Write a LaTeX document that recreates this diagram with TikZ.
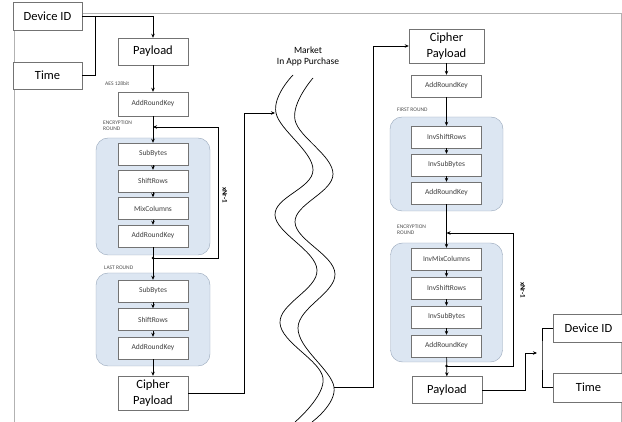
\documentclass[tikz,border=0pt]{standalone}
\usepackage{fontspec}
\setmainfont{Carlito}
\usetikzlibrary{arrows.meta}
\definecolor{roundfill}{RGB}{220,230,242}
\definecolor{roundline}{RGB}{150,165,185}
\definecolor{boxline}{RGB}{115,115,115}
\tikzset{
  bigbox/.style={draw=boxline, fill=white, minimum width=70pt, minimum height=27pt, inner sep=1pt, align=center, font=\fontsize{12.5}{16}\selectfont},
  opbox/.style={draw=boxline, fill=white, minimum width=70pt, minimum height=22pt, inner sep=1pt, text=black!75, font=\fontsize{7.5}{8.5}\selectfont},
  roundbg/.style={draw=roundline, fill=roundfill, rounded corners=12pt},
  tag/.style={inner sep=0pt, align=left, text=black!70, font=\fontsize{5.5}{6}\selectfont},
  times/.style={rotate=-90, inner sep=0pt, font=\fontsize{7}{8}\selectfont\bfseries},
  flow/.style={-{Stealth[length=4pt,width=3.5pt]}, line width=0.7pt},
  wire/.style={line width=0.7pt}
}
\begin{document}
\begin{tikzpicture}[x=1pt, y=-1pt]
\useasboundingbox (0,0) rectangle (622,422);
\draw[black!30] (14,422) -- (14,13) -- (621,13) -- (621,422);

% sender side
\node[bigbox, minimum width=69pt, minimum height=28pt] (devL) at (47.5,16) {Device ID};
\node[bigbox, minimum width=69pt] (timeL) at (47.5,75.5) {Time};
\node[bigbox] (payL) at (153,51.5) {Payload};
\node[tag, anchor=west] (aesL) at (105,84) {AES 128bit};
\node[opbox, minimum height=24pt] (arkL) at (153,104) {AddRoundKey};
\node[tag, anchor=north west] (encTagL) at (103,121) {ENCRYPTION\\ROUND};
\node[roundbg, minimum width=114pt, minimum height=117pt] (encL) at (153,196.5) {};
\node[opbox] (sbL) at (153,154) {SubBytes};
\node[opbox] (srL) at (153,181) {ShiftRows};
\node[opbox] (mcL) at (153,208.5) {MixColumns};
\node[opbox] (arkLa) at (153,236) {AddRoundKey};
\node[tag, anchor=west] (lastTagL) at (104,268) {LAST ROUND};
\node[roundbg, minimum width=114pt, minimum height=93pt] (lastL) at (153,319.5) {};
\node[opbox] (sbLb) at (153,291) {SubBytes};
\node[opbox] (srLb) at (153,319.5) {ShiftRows};
\node[opbox] (arkLb) at (153,348) {AddRoundKey};
\node[bigbox, minimum height=34pt] (cipL) at (153,393) {Cipher\\Payload};
\node[times] (nrL) at (225,195) {xNr-1};

\coordinate (joinL) at (95,16);
\coordinate (loopLin) at (153,127);
\coordinate (loopLout) at (153,258);
\draw[flow] (devL.east) -| (payL.north);
\draw[wire] (timeL.east) -| (joinL);
\foreach \source/\dest in {payL/arkL, arkL/sbL, sbL/srL, srL/mcL, mcL/arkLa, arkLa/sbLb, sbLb/srLb, srLb/arkLb, arkLb/cipL}
  \draw[flow] (\source) -- (\dest);
\draw[flow] (loopLout) -- ++(65,0) |- (loopLin);
\fill (loopLout) circle (1.3pt);

% market
\node[align=center, font=\fontsize{9.5}{11}\selectfont] (market) at (308,56) {Market\\In App Purchase};
\draw[wire] plot[smooth, tension=0.65] coordinates {(293,75) (276,113) (313,170) (275,215) (317,270) (280,323) (323,378) (295,422)};
\draw[wire] plot[smooth, tension=0.65] coordinates {(313,78) (295,120) (333,174) (295,222) (335,274) (298,328) (334,387) (312,422)};
\coordinate (upL) at (244,113);
\coordinate (waveIn) at (275,113);
\coordinate (waveOut) at (334,387);
\coordinate (upR) at (373,46);
\draw[flow] (cipL.east) -| (upL) -- (waveIn);

% receiver side
\node[bigbox, minimum width=75pt, minimum height=34pt] (cipR) at (446.5,46) {Cipher\\Payload};
\node[opbox] (arkR) at (446.5,86) {AddRoundKey};
\node[tag, anchor=west] (firstTagR) at (397,110) {FIRST ROUND};
\node[roundbg, minimum width=113pt, minimum height=94pt] (firstR) at (446.5,164) {};
\node[opbox] (isrR) at (446.5,137) {InvShiftRows};
\node[opbox] (isbR) at (446.5,165) {InvSubBytes};
\node[opbox] (arkRa) at (446.5,193) {AddRoundKey};
\node[tag, anchor=north west] (encTagR) at (397,225) {ENCRYPTION\\ROUND};
\node[roundbg, minimum width=112pt, minimum height=119pt] (encR) at (446.5,302.5) {};
\node[opbox] (imcR) at (446.5,259) {InvMixColumns};
\node[opbox] (isrRb) at (446.5,288) {InvShiftRows};
\node[opbox] (isbRb) at (446.5,317) {InvSubBytes};
\node[opbox] (arkRb) at (446.5,346) {AddRoundKey};
\node[bigbox] (payR) at (447,390) {Payload};
\node[times] (nrR) at (523,290) {xNr-1};
\node[bigbox, minimum height=28pt] (devR) at (588.5,328) {Device ID};
\node[bigbox, minimum height=29pt] (timeR) at (588.5,387.5) {Time};

\coordinate (loopRin) at (446.5,233);
\coordinate (loopRout) at (446.5,366);
\coordinate (brR) at (542,353);
\draw[flow] (waveOut) -| (upR) -- (cipR.west);
\foreach \source/\dest in {cipR/arkR, arkR/isrR, isrR/isbR, isbR/arkRa, arkRa/imcR, imcR/isrRb, isrRb/isbRb, isbRb/arkRb, arkRb/payR}
  \draw[flow] (\source) -- (\dest);
\draw[flow] (loopRout) -- ++(66.5,0) |- (loopRin);
\fill (loopRout) circle (1.3pt);
\draw[flow, shorten >=5pt] (payR.east) -- ++(43,0) |- (brR);
\draw[wire] (devR.west) -| (brR) |- (timeR.west);
\end{tikzpicture}
\end{document}
